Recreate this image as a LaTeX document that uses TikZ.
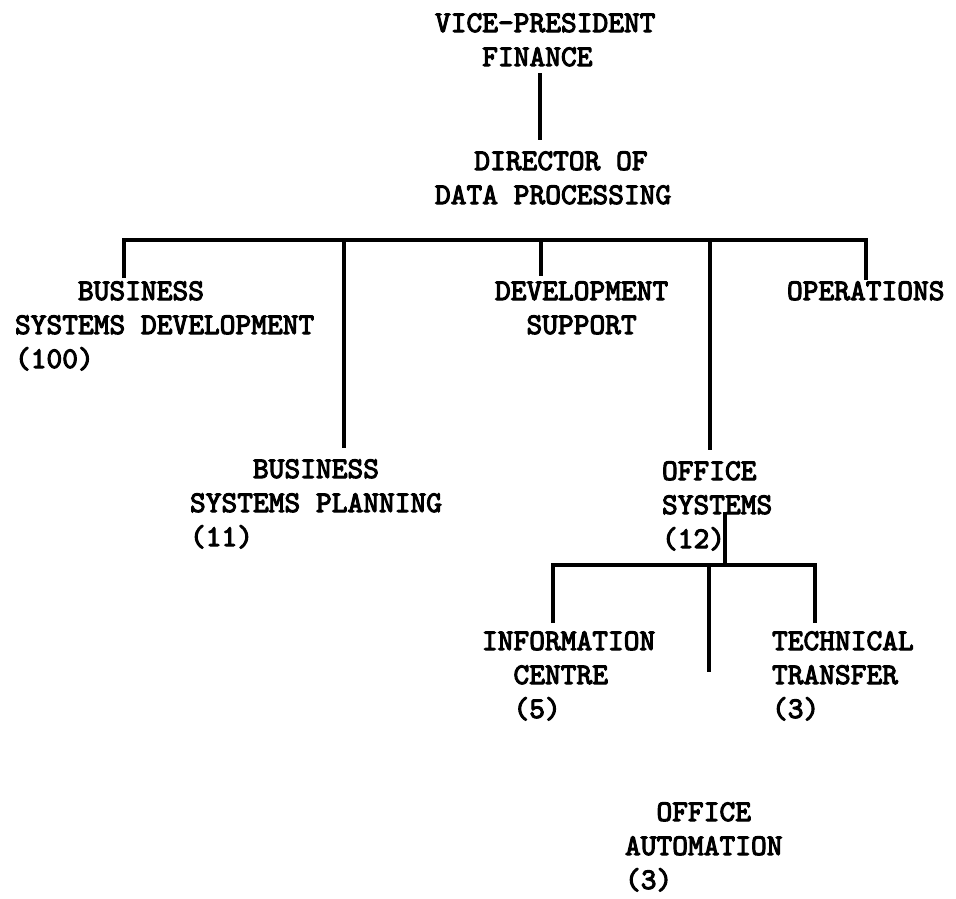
\documentclass[tikz,border=0pt]{standalone}
\usepackage{fontspec}
\newfontfamily\tw{lmmono10-regular.otf}[FakeBold=3.5]
\newcommand\ind[1]{\hspace*{#1\fontcharwd\font`M}}
\begin{document}
\begin{tikzpicture}[x=1pt,y=-1pt,
  lbl/.style={anchor=base west,inner sep=0pt,outer sep=0pt,align=left,
    font=\tw\bfseries\fontsize{30}{34}\selectfont},
  conn/.style={line width=3.2pt,line join=miter,line cap=butt}]
\useasboundingbox[fill=white] (0,0) rectangle (956,898);
% labels (anchored at the baseline of their last line)
\node[lbl] (vp)   at (435,66)  {VICE-PRESIDENT\\\ind{3}FINANCE};
\node[lbl] (dir)  at (435,204) {\ind{2.5}DIRECTOR OF\\DATA PROCESSING};
\node[lbl] (bsd)  at (15,368)  {\ind{4}BUSINESS\\SYSTEMS DEVELOPMENT\\(100)};
\node[lbl] (ds)   at (495,334) {DEVELOPMENT\\\ind{2}SUPPORT};
\node[lbl] (ops)  at (787,300) {OPERATIONS};
\node[lbl] (bsp)  at (190,546) {\ind{4}BUSINESS\\SYSTEMS PLANNING\\(11)};
\node[lbl] (osys) at (662,548) {OFFICE\\SYSTEMS\\(12)};
\node[lbl] (ic)   at (482,718) {INFORMATION\\\ind{2}CENTRE\\\ind{2}(5)};
\node[lbl] (tt)   at (772,718) {TECHNICAL\\TRANSFER\\(3)};
\node[lbl] (oa)   at (625,889) {\ind{2}OFFICE\\AUTOMATION\\(3)};
% connector end points
\coordinate (vpB)   at (540,73);
\coordinate (dirT)  at (540,140);
\coordinate (bsdT)  at (124,278);
\coordinate (bspT)  at (344,448);
\coordinate (dsT)   at (541,276);
\coordinate (osysT) at (710,450);
\coordinate (opsT)  at (866,280);
\coordinate (osysB) at (725,512);
\coordinate (icT)   at (553,623);
\coordinate (ttT)   at (815,623);
\coordinate (oaT)   at (709,672);
% connectors
\draw[conn] (vpB) -- (dirT);
\draw[conn] (bsdT) |- (opsT |- 0,240) -- (opsT);
\draw[conn] (bspT |- 0,240) -- (bspT);
\draw[conn] (dsT |- 0,240) -- (dsT);
\draw[conn] (osysT |- 0,240) -- (osysT);
\draw[conn] (osysB) -- (725,565);
\draw[conn] (icT) |- (ttT |- 0,565) -- (ttT);
\draw[conn] (oaT |- 0,565) -- (oaT);
\end{tikzpicture}
\end{document}
